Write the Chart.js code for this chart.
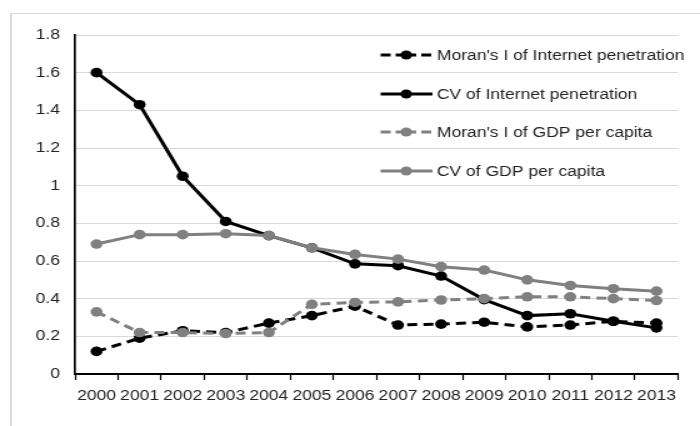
<!DOCTYPE html>
<html>
<head>
<meta charset="utf-8">
<script src="https://cdn.jsdelivr.net/npm/chart.js@4"></script>
<style>
  body { margin: 0; background: #fff; }
  #wrap { position: relative; width: 700px; height: 426px; overflow: hidden; }
  #frame { position: absolute; left: 10px; top: 13px; width: 800px; height: 500px;
           border-top: 1.5px solid #d9d9d9; border-left: 2px solid #d9d9d9; }
  /* the original picture is stretched sideways by 1.25 */
  #stretch { position: absolute; left: 0; top: 0; width: 560px; height: 426px;
             transform: scaleX(1.25); transform-origin: 0 0; }
</style>
</head>
<body>
<div id="wrap">
  <div id="frame"></div>
  <div id="stretch"><canvas id="chart" width="560" height="426"></canvas></div>
</div>
<script>
const years = ['2000', '2001', '2002', '2003', '2004', '2005', '2006', '2007', '2008', '2009', '2010', '2011', '2012', '2013'];

const moranInternet = [0.12, 0.19, 0.23, 0.22, 0.27, 0.31, 0.36, 0.26, 0.265, 0.275, 0.25, 0.26, 0.28, 0.27];
const cvInternet = [1.6, 1.43, 1.05, 0.81, 0.735, 0.67, 0.585, 0.575, 0.52, 0.395, 0.31, 0.32, 0.28, 0.245];
const moranGdp = [0.33, 0.22, 0.22, 0.215, 0.22, 0.37, 0.38, 0.383, 0.393, 0.40, 0.41, 0.41, 0.40, 0.39];
const cvGdp = [0.69, 0.74, 0.74, 0.745, 0.735, 0.67, 0.635, 0.61, 0.57, 0.552, 0.50, 0.47, 0.453, 0.44];

const yTicks = [0, 0.2, 0.4, 0.6, 0.8, 1, 1.2, 1.4, 1.6, 1.8];

const black = '#000000';
const grey = '#808080';
const textColor = '#222222';
const fontFamily = '"Liberation Sans", Arial, sans-serif';

function series(label, data, color, dash, order) {
    return {
        label: label,
        data: data,
        borderColor: color,
        backgroundColor: color,
        borderWidth: 3,
        borderDash: dash,
        pointRadius: 4.8,
        pointHoverRadius: 4.8,
        pointBorderWidth: 0,
        fill: false,
        tension: 0,
        order: order
    };
}

// legend drawn inside the plot, like the original
const insideLegend = {
    id: 'insideLegend',
    afterDraw(chart) {
        const ctx = chart.ctx;
        const rows = [55, 94, 132, 171];
        chart.data.datasets.forEach((ds, i) => {
            const y = rows[i];
            ctx.save();
            ctx.strokeStyle = ds.borderColor;
            ctx.lineWidth = 3;
            ctx.beginPath();
            if (ds.borderDash.length) {
                ctx.moveTo(304.5, y); ctx.lineTo(312.5, y);
                ctx.moveTo(316.5, y); ctx.lineTo(333, y);
                ctx.moveTo(337, y); ctx.lineTo(345, y);
            } else {
                ctx.moveTo(304.5, y); ctx.lineTo(346, y);
            }
            ctx.stroke();
            ctx.fillStyle = ds.borderColor;
            ctx.beginPath();
            ctx.arc(325, y, 4.6, 0, Math.PI * 2);
            ctx.fill();
            ctx.fillStyle = textColor;
            ctx.font = '14px ' + fontFamily;
            ctx.textBaseline = 'middle';
            ctx.textAlign = 'left';
            ctx.fillText(ds.label, 349.5, y + 1);
            ctx.restore();
        });
    }
};

new Chart(document.getElementById('chart'), {
    type: 'line',
    data: {
        labels: years,
        datasets: [
            series("Moran's I of Internet penetration", moranInternet, black, [8, 5], 3),
            series('CV of Internet penetration', cvInternet, black, [], 2),
            series("Moran's I of GDP per capita", moranGdp, grey, [8, 5], 1),
            series('CV of GDP per capita', cvGdp, grey, [], 0)
        ]
    },
    options: {
        responsive: false,
        animation: false,
        layout: { padding: { left: 0, top: 35, right: 17.6, bottom: 0 } },
        plugins: {
            legend: { display: false },
            tooltip: { enabled: false }
        },
        scales: {
            x: {
                offset: true,
                grid: {
                    offset: true,
                    drawOnChartArea: false,
                    drawTicks: true,
                    tickLength: 6,
                    tickWidth: 1.2,
                    tickColor: black
                },
                border: { display: true, color: black, width: 2 },
                ticks: {
                    color: textColor,
                    font: { family: fontFamily, size: 14 },
                    padding: 8,
                    maxRotation: 0,
                    autoSkip: false
                },
                afterFit(scale) { scale.height = 52; }
            },
            y: {
                min: 0,
                max: 1.8,
                afterBuildTicks(scale) { scale.ticks = yTicks.map(v => ({ value: v })); },
                grid: { color: '#d9d9d9', lineWidth: 1, drawTicks: false },
                border: { display: true, color: black, width: 1.7 },
                ticks: {
                    color: textColor,
                    font: { family: fontFamily, size: 14 },
                    padding: 12,
                    callback: v => String(Math.round(v * 10) / 10)
                },
                afterFit(scale) { scale.width = 60; }
            }
        }
    },
    plugins: [insideLegend]
});
</script>
</body>
</html>
